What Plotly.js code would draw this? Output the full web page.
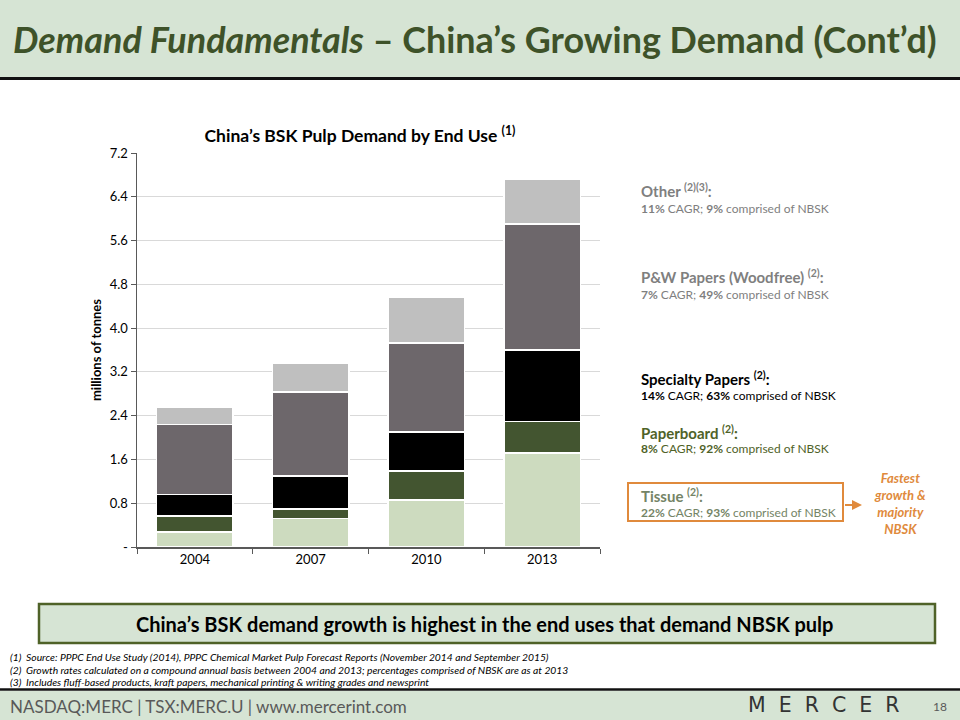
<!DOCTYPE html>
<html>
<head>
<meta charset="utf-8">
<script src="https://cdn.plot.ly/plotly-3.0.1.min.js"></script>
<style>
  html, body { margin: 0; padding: 0; background: #ffffff; }
  #chart { width: 960px; height: 720px; }
</style>
</head>
<body>
<div id="chart"></div>
<script>
// ---- Data ----
const years = ["2004", "2007", "2010", "2013"];
const tissue = [0.27, 0.52, 0.86, 1.72];
const paperboard = [0.30, 0.17, 0.53, 0.57];
const specialty = [0.39, 0.61, 0.71, 1.31];
const pwPapers = [1.28, 1.53, 1.63, 2.30];
const other = [0.32, 0.53, 0.84, 0.82];
const yTickVals = [0, 0.8, 1.6, 2.4, 3.2, 4.0, 4.8, 5.6, 6.4, 7.2];
const yTickText = ["-", "0.8", "1.6", "2.4", "3.2", "4.0", "4.8", "5.6", "6.4", "7.2"];

// ---- Layout helpers (pixel -> paper) ----
const M = { l: 137, r: 360, t: 153, b: 173 };
const PW = 960 - M.l - M.r, PH = 720 - M.t - M.b;
const px = x => (x - M.l) / PW;
const py = y => (720 - M.b - y) / PH;

const FONT = "Lato, 'Open Sans', sans-serif";
const GREEN_BG = "#d6e4d4";
const ORANGE = "#e08a3c";

function seg(name, vals, color) {
  return {
    type: "bar", name: name, x: years, y: vals,
    marker: { color: color, line: { color: "#ffffff", width: 1.5 } },
    hoverinfo: "name+y"
  };
}

const data = [
  seg("Tissue", tissue, "#cddbbf"),
  seg("Paperboard", paperboard, "#435530"),
  seg("Specialty Papers", specialty, "#000000"),
  seg("P&W Papers (Woodfree)", pwPapers, "#6d676b"),
  seg("Other", other, "#bfbfbf")
];

function txt(x, y, text, size, color, opts) {
  return Object.assign({
    xref: "paper", yref: "paper", x: px(x), y: py(y), text: text,
    showarrow: false, xanchor: "left", yanchor: "middle",
    font: { family: FONT, size: size, color: color }
  }, opts || {});
}

const annotations = [
  // slide title
  txt(11, 40, "<b><i>Demand Fundamentals</i> – China’s Growing Demand (Cont’d)</b>", 35.9, "#3e5229"),
  // right-hand legend texts
  txt(639, 190, "<b>Other <sup>(2)(3)</sup>:</b>", 15, "#7f7f7f"),
  txt(639, 208, "<b>11%</b> CAGR; <b>9%</b> comprised of NBSK", 12, "#7f7f7f"),
  txt(639, 276, "<b>P&W Papers (Woodfree) <sup>(2)</sup>:</b>", 15, "#7f7f7f"),
  txt(639, 294, "<b>7%</b> CAGR; <b>49%</b> comprised of NBSK", 12, "#7f7f7f"),
  txt(639, 378, "<b>Specialty Papers <sup>(2)</sup>:</b>", 15, "#000000"),
  txt(639, 395, "<b>14%</b> CAGR; <b>63%</b> comprised of NBSK", 12, "#000000"),
  txt(639, 432, "<b>Paperboard <sup>(2)</sup>:</b>", 15, "#4f6228"),
  txt(639, 448, "<b>8%</b> CAGR; <b>92%</b> comprised of NBSK", 12, "#4f6228"),
  txt(639, 495, "<b>Tissue <sup>(2)</sup>:</b>", 15, "#748466"),
  txt(639, 512, "<b>22%</b> CAGR; <b>93%</b> comprised of NBSK", 12, "#748466"),
  txt(900, 503, "<b><i>Fastest<br>growth &<br>majority<br>NBSK</i></b>", 13, ORANGE, { xanchor: "center" }),
  // arrow
  {
    xref: "paper", yref: "paper", x: px(862), y: py(505), ax: -19, ay: 0,
    text: " ", showarrow: true, arrowhead: 2, arrowsize: 1, arrowwidth: 2, arrowcolor: ORANGE,
    font: { family: FONT, size: 2, color: ORANGE }
  },
  // message box text
  txt(484, 624, "<b>China’s BSK demand growth is highest in the end uses that demand NBSK pulp</b>", 20, "#000000", { xanchor: "center" }),
  // footnotes
  txt(8, 657, "<i>(1)  Source: PPPC End Use Study (2014), PPPC Chemical Market Pulp Forecast Reports (November 2014 and September 2015)</i>", 10.3, "#000000"),
  txt(8, 669.5, "<i>(2)  Growth rates calculated on a compound annual basis between 2004 and 2013; percentages comprised of NBSK are as at 2013</i>", 10.3, "#000000"),
  txt(8, 682, "<i>(3)  Includes fluff-based products, kraft papers, mechanical printing & writing grades and newsprint</i>", 10.3, "#000000"),
  // footer
  txt(8, 706, "NASDAQ:MERC | TSX:MERC.U | www.mercerint.com", 17, "#595959"),
  txt(824, 705, "M  E  R  C  E  R", 20, "#333333", { xanchor: "center", font: { family: "'DejaVu Sans', sans-serif", size: 20.5, color: "#333333" } }),
  txt(940, 706, "18", 12, "#595959", { xanchor: "center" })
];

function rect(x0, y0, x1, y1, fill, lineColor, lineWidth) {
  return {
    type: "rect", xref: "paper", yref: "paper", layer: "below",
    x0: px(x0), x1: px(x1), y0: py(y0), y1: py(y1),
    fillcolor: fill, line: { color: lineColor || fill, width: lineWidth === undefined ? 0 : lineWidth }
  };
}
function hline(x0, x1, y, color, width) {
  return {
    type: "line", xref: "paper", yref: "paper",
    x0: px(x0), x1: px(x1), y0: py(y), y1: py(y),
    line: { color: color, width: width }
  };
}

const shapes = [
  rect(0, 0, 960, 77, GREEN_BG),
  hline(0, 960, 78.5, "#111111", 3),
  { type: "rect", xref: "paper", yref: "paper", x0: px(628), x1: px(843), y0: py(483), y1: py(521),
    line: { color: ORANGE, width: 2 }, fillcolor: "rgba(0,0,0,0)" },
  rect(39, 604, 935, 643, GREEN_BG, "#4f6228", 2.5),
  hline(0, 960, 689.5, "#111111", 2.5),
  rect(0, 691, 960, 720, GREEN_BG)
];

const layout = {
  width: 960, height: 720,
  margin: M,
  paper_bgcolor: "#ffffff", plot_bgcolor: "#ffffff",
  font: { family: FONT, size: 13, color: "#000000" },
  showlegend: false,
  barmode: "stack",
  bargap: 0.34,
  title: {
    text: "<b>China’s BSK Pulp Demand by End Use <sup>(1)</sup></b>",
    xref: "paper", x: px(360), xanchor: "center",
    yref: "container", y: 1 - 136 / 720, yanchor: "middle",
    font: { family: FONT, size: 17.5, color: "#000000" }
  },
  xaxis: {
    type: "category",
    tickson: "boundaries",
    ticks: "outside", ticklen: 5, tickcolor: "#595959",
    showline: true, linecolor: "#595959", linewidth: 1.5,
    showgrid: false,
    tickfont: { family: FONT, size: 13, color: "#000000" }
  },
  yaxis: {
    range: [0, 7.2],
    tickvals: yTickVals, ticktext: yTickText,
    ticks: "outside", ticklen: 5, tickcolor: "#595959",
    showline: true, linecolor: "#595959", linewidth: 1.5,
    showgrid: true, gridcolor: "#d9d9d9", gridwidth: 1,
    zeroline: false,
    tickfont: { family: FONT, size: 13, color: "#000000" },
    title: { text: "<b>millions of tonnes</b>", standoff: 5, font: { family: FONT, size: 13, color: "#000000" } }
  },
  annotations: annotations,
  shapes: shapes
};

Plotly.newPlot("chart", data, layout, { displayModeBar: false, staticPlot: true });
</script>
</body>
</html>
